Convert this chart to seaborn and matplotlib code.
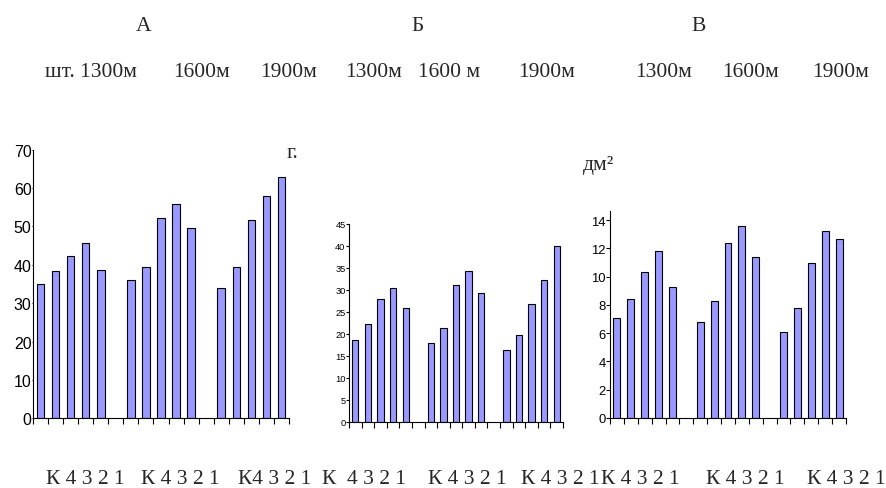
import numpy as np
import pandas as pd
import seaborn as sns
import matplotlib.pyplot as plt

# Данные
heights = ['1300м', '1600м', '1900м']
positions = ['К', '4', '3', '2', '1']

# А - шт.
valsA = [35.0, 38.3, 42.4, 45.6, 38.7,
         36.0, 39.4, 52.3, 55.9, 49.6,
         34.0, 39.4, 51.7, 57.9, 63.0]
# Б - г.
valsB = [18.6, 22.3, 27.9, 30.3, 25.8,
         18.0, 21.3, 31.1, 34.3, 29.2,
         16.2, 19.6, 26.8, 32.2, 39.9]
# В - дм2
valsC = [7.1, 8.4, 10.3, 11.8, 9.3,
         6.8, 8.3, 12.4, 13.6, 11.4,
         6.1, 7.8, 11.0, 13.2, 12.7]

ticksA = [0, 10, 20, 30, 40, 50, 60, 70]
ticksB = [0, 5, 10, 15, 20, 25, 30, 35, 40, 45]
ticksC = [0, 2, 4, 6, 8, 10, 12, 14]

sns.set_style('ticks')
plt.rcParams['font.family'] = ['Liberation Sans', 'DejaVu Sans']

# порядок категорий с пустыми местами между группами высот
order = []
for i, h in enumerate(heights):
    order += [f'{h} {p}' for p in positions]
    if i < len(heights) - 1:
        order.append(f'gap{i}')

W, H = 886, 489
fig = plt.figure(figsize=(W / 100, H / 100), dpi=100)


def px_axes(left, right, bottom, top):
    return fig.add_axes([left / W, 1 - bottom / H, (right - left) / W, (bottom - top) / H])


def draw(ax, vals, ticks, ymax, fs, tlen):
    df = pd.DataFrame({
        'cat': [f'{h} {p}' for h in heights for p in positions],
        'val': vals,
    })
    sns.barplot(data=df, x='cat', y='val', order=order, ax=ax, width=0.5,
                color='#9999ff', saturation=1, edgecolor='black', linewidth=0.8)
    ax.set_xlim(-0.5, len(order) - 0.5)
    ax.set_ylim(0, ymax)
    ax.set_xticks(np.arange(-0.5, len(order), 1))
    ax.set_xticklabels([])
    ax.set_yticks(ticks)
    ax.set_yticklabels([str(t) for t in ticks], fontsize=fs, color='black')
    ax.tick_params(axis='x', length=4, width=0.8, color='black')
    ax.tick_params(axis='y', length=tlen, width=0.8, color='black', pad=0)
    ax.set_xlabel('')
    ax.set_ylabel('')
    sns.despine(ax=ax)
    for s in ['left', 'bottom']:
        ax.spines[s].set_color('black')
        ax.spines[s].set_linewidth(0.8)
    ax.patch.set_alpha(0)


axA = px_axes(33, 289, 419.3, 150.7)
draw(axA, valsA, ticksA, 70, 11.5, 1)
axB = px_axes(349, 563, 422.7, 224.7)
draw(axB, valsB, ticksB, 45, 6.7, 2.5)
axC = px_axes(610, 846, 419, 212)
draw(axC, valsC, ticksC, 14.65, 9.4, 3)

serif = ['Liberation Serif', 'DejaVu Serif']


def ftext(x, y, s, fs=15.5, ha='left'):
    fig.text(x / W, 1 - y / H, s, fontsize=fs, family=serif, ha=ha, va='baseline')


# заголовки панелей
ftext(143.5, 31, 'А', ha='center')
ftext(418, 31, 'Б', ha='center')
ftext(699, 31, 'В', ha='center')

# подписи высот
top_labels = ['шт. 1300м', '1600м', '1900м', '1300м', '1600 м', '1900м', '1300м', '1600м', '1900м']
top_x = [45, 173, 260, 345, 418, 518, 635, 722, 812]
for s, x in zip(top_labels, top_x):
    ftext(x, 77, s)

# единицы измерения
ftext(287, 158, 'г.')
ftext(583, 170, 'дм²')

# подписи вариантов под осями
bottom_labels = ['К 4 3 2 1', 'К 4 3 2 1', 'К4 3 2 1', 'К  4 3 2 1', 'К 4 3 2 1',
                 'К 4 3 2 1', 'К 4 3 2 1', 'К 4 3 2 1', 'К 4 3 2 1']
bottom_x = [46, 141, 238, 322, 428, 521, 601, 706, 807]
for s, x in zip(bottom_labels, bottom_x):
    ftext(x, 484, s)

plt.savefig('out.png', dpi=100)
